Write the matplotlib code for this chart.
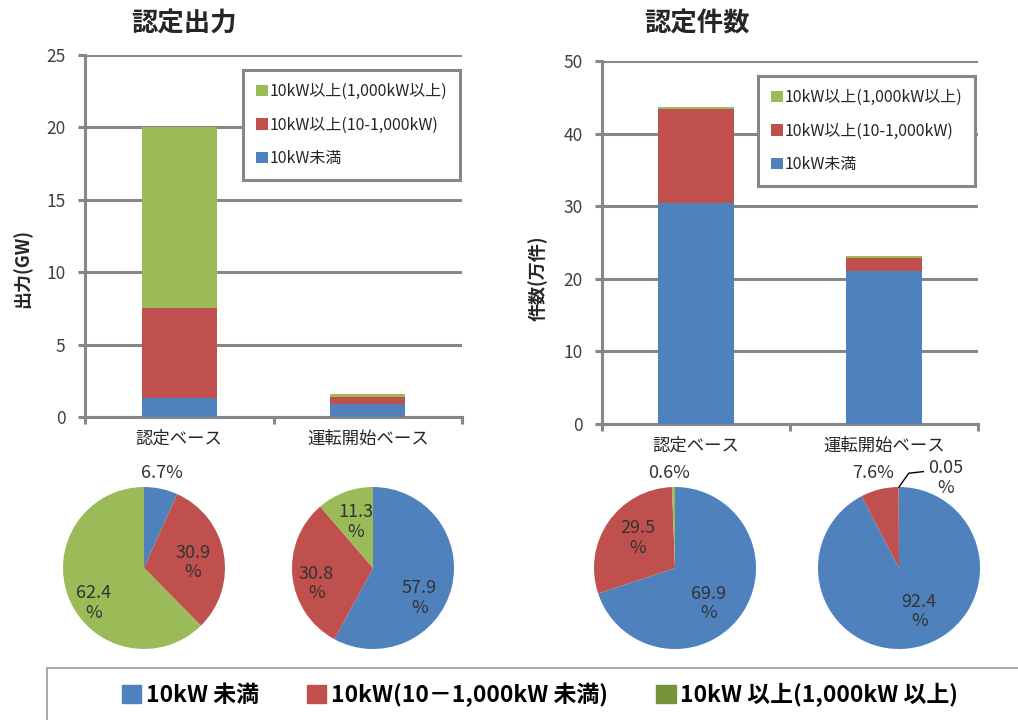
import matplotlib
matplotlib.use('Agg')
import matplotlib.pyplot as plt
import matplotlib.patches as patches
import numpy as np

plt.rcParams['font.family'] = ['Noto Sans CJK JP', 'DejaVu Sans']

categories = ['認定ベース', '運転開始ベース']
series_names = ['10kW未満', '10kW以上(10-1,000kW)', '10kW以上(1,000kW以上)']

# 認定出力 (GW)
output_lt10 = [1.3, 0.9]
output_10_1000 = [6.2, 0.5]
output_ge1000 = [12.5, 0.17]

# 認定件数 (万件)
count_lt10 = [30.5, 21.1]
count_10_1000 = [12.9, 1.8]
count_ge1000 = [0.3, 0.2]

# shares in % (blue, red, green)
pie_output_cert = [6.7, 30.9, 62.4]
pie_output_oper = [57.9, 30.8, 11.3]
pie_count_cert = [69.9, 29.5, 0.6]
pie_count_oper = [92.4, 7.6, 0.05]

legend_names = ['10kW 未満', '10kW(10－1,000kW 未満)', '10kW 以上(1,000kW 以上)']

colors = ['#4F81BD', '#C0504D', '#9BBB59']
legend_colors = ['#4F81BD', '#C0504D', '#77933C']
W, H = 1018, 720
GRAY = '#878787'
TEXT = '#404040'


def px_box(x0, y0, x1, y1):
    # pixel box, origin top-left -> figure fraction rect
    return [x0 / W, 1 - y1 / H, (x1 - x0) / W, (y1 - y0) / H]


def bar_panel(fig, box, series, ymax, ystep, legend_corner):
    ax = fig.add_axes(px_box(*box))
    x = np.arange(len(categories))
    bottom = np.zeros(len(categories))
    handles = []
    for vals, c in zip(series, colors):
        b = ax.bar(x, vals, 0.4, bottom=bottom, color=c, zorder=3)
        bottom += np.array(vals)
        handles.append(b)
    ax.set_xlim(-0.5, 1.5)
    ax.set_ylim(0, ymax)
    ax.set_yticks(np.arange(0, ymax + 1, ystep))
    ax.yaxis.grid(True, color=GRAY, lw=2.2, zorder=0)
    ax.set_axisbelow(True)
    ax.set_xticks(x)
    ax.set_xticklabels(categories, fontsize=12.5, color='#262626')
    ax.set_xticks([-0.5, 0.5, 1.5], minor=True)
    ax.tick_params(axis='x', which='major', length=0, pad=9)
    ax.tick_params(axis='x', which='minor', length=5, width=2.2, color=GRAY)
    ax.tick_params(axis='y', length=5, width=2.2, color=GRAY,
                   labelsize=12.5, labelcolor=TEXT, pad=9)
    for s in ['top', 'right']:
        ax.spines[s].set_visible(False)
    for s in ['left', 'bottom']:
        ax.spines[s].set_color(GRAY)
        ax.spines[s].set_linewidth(2.2)

    leg = ax.legend(handles[::-1], series_names[::-1], loc='upper right',
                    bbox_to_anchor=(legend_corner[0] / W, 1 - legend_corner[1] / H),
                    bbox_transform=fig.transFigure, borderaxespad=0,
                    fancybox=False, edgecolor=GRAY, framealpha=1,
                    fontsize=11.5, handlelength=0.75, handleheight=0.7,
                    handletextpad=0.1, labelspacing=1.05, borderpad=0.8)
    leg.get_frame().set_linewidth(2.2)
    leg.set_zorder(5)
    for t in leg.get_texts():
        t.set_color('#262626')
    return ax


def pie_panel(fig, cx, cy, r, values, label_pos, two_line):
    ax = fig.add_axes(px_box(cx - r, cy - r, cx + r, cy + r))
    ax.pie(values, colors=colors, startangle=90, counterclock=False,
           wedgeprops=dict(linewidth=0))
    ax.set_xlim(-1, 1)
    ax.set_ylim(-1, 1)
    for v, (lx, ly), two in zip(values, label_pos, two_line):
        s = f'{v}\n%' if two else f'{v}%'
        ax.text(lx, ly, s, ha='center', va='center', fontsize=13,
                color='#333333', linespacing=1.1, clip_on=False)
    return ax


fig = plt.figure(figsize=(W / 100, H / 100), dpi=100)

bar_panel(fig, (85, 55, 462, 417), [output_lt10, output_10_1000, output_ge1000],
          25, 5, (460, 70))
bar_panel(fig, (602, 61, 978, 424), [count_lt10, count_10_1000, count_ge1000],
          50, 10, (975, 76))

fig.text(184 / W, 1 - 24 / H, '認定出力', ha='center', va='center',
         fontsize=19, weight='bold', color='#262626')
fig.text(697 / W, 1 - 24 / H, '認定件数', ha='center', va='center',
         fontsize=19, weight='bold', color='#262626')
fig.text(22 / W, 1 - 269 / H, '出力(GW)', ha='center', va='center',
         rotation=90, fontsize=13, weight='bold', color='#262626')
fig.text(538 / W, 1 - 278 / H, '件数(万件)', ha='center', va='center',
         rotation=90, fontsize=13, weight='bold', color='#262626')

pie_panel(fig, 144, 568, 81, pie_output_cert,
          [(0.22, 1.17), (0.60, 0.07), (-0.62, -0.43)], [False, True, True])
pie_panel(fig, 373, 568, 81, pie_output_oper,
          [(0.57, -0.37), (-0.70, -0.19), (-0.21, 0.57)], [True, True, True])
pie_panel(fig, 675, 568, 81, pie_count_cert,
          [(0.41, -0.44), (-0.46, 0.37), (-0.07, 1.17)], [True, True, False])
ax4 = pie_panel(fig, 899, 568, 81, pie_count_oper,
                [(0.25, -0.54), (-0.32, 1.17), (0.58, 1.11)], [True, False, True])
ax4.plot([0, 0.12, 0.30], [1.0, 1.17, 1.19], color='black', lw=1, clip_on=False)

# bottom legend
frame = patches.Rectangle((47 / W, -0.1), 1.0, 0.1 + (720 - 668) / H,
                          transform=fig.transFigure, fill=False,
                          edgecolor='#9a9a9a', lw=1.2)
fig.add_artist(frame)
leg_handles = [patches.Patch(color=c) for c in legend_colors]
fig.legend(leg_handles, legend_names, loc='center', ncol=3,
           bbox_to_anchor=(540 / W, 1 - 695 / H), frameon=False,
           prop={'weight': 'bold', 'size': 16.5}, handlelength=0.85,
           handleheight=0.85, handletextpad=0.2, columnspacing=2.1)

fig.savefig('out.png', dpi=100)
